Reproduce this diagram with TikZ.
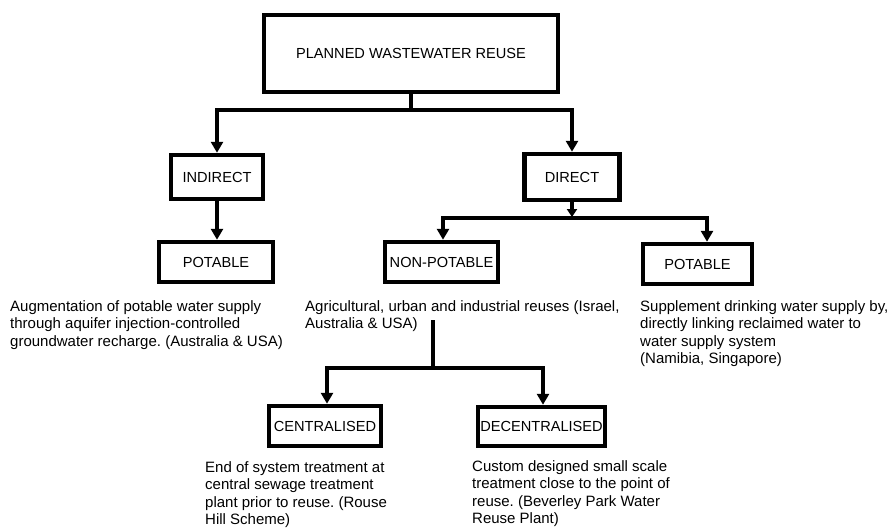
\documentclass[tikz,border=0pt]{standalone}
\usepackage{fontspec}
\setmainfont{Liberation Sans}
\usetikzlibrary{arrows.meta}
\frenchspacing
\begin{document}
\begin{tikzpicture}[x=1pt,y=-1pt,
  box/.style={draw, line width=4.5pt, inner sep=0pt, font=\fontsize{14.6}{17}\selectfont},
  desc/.style={align=left, anchor=north west, inner sep=0pt, font=\fontsize{15}{17.5}\selectfont},
  link/.style={line width=4pt},
  arr/.style={link, -{Triangle[width=12pt,length=11pt]}},
  smallarr/.style={link, -{Triangle[width=10pt,length=8pt]}, shorten >=1pt}]
\path[use as bounding box] (0,0) rectangle (893,527);

% category boxes
\node[box, minimum width=294pt, minimum height=77pt] (top) at (411,53.5) {PLANNED WASTEWATER REUSE};
\node[box, minimum width=92pt, minimum height=44pt] (indirect) at (217,177) {INDIRECT};
\node[box, minimum width=95pt, minimum height=46pt] (direct) at (572,177) {DIRECT};
\node[box, minimum width=114pt, minimum height=40pt] (lpot) at (216,262) {POTABLE};
\node[box, minimum width=113pt, minimum height=40pt] (nonpot) at (441.5,262) {NON-POTABLE};
\node[box, minimum width=109pt, minimum height=40pt] (rpot) at (697.5,264) {POTABLE};
\node[box, minimum width=112pt, minimum height=40pt] (cent) at (325,426) {CENTRALISED};
\node[box, minimum width=127pt, minimum height=39pt] (decent) at (541.5,426.5) {DECENTRALISED};

% explanatory texts
\node[desc] (lpotdesc) at (10,300) {Augmentation of potable water supply\\through aquifer injection-controlled\\groundwater recharge. (Australia \& USA)};
\node[desc] (nonpotdesc) at (305,300) {Agricultural, urban and industrial reuses (Israel,\\Australia \& USA)};
\node[desc] (rpotdesc) at (640,300) {Supplement drinking water supply by,\\directly linking reclaimed water to\\water supply system\\(Namibia, Singapore)};
\node[desc] (centdesc) at (205,461) {End of system treatment at\\central sewage treatment\\plant prior to reuse. (Rouse\\Hill Scheme)};
\node[desc] (decentdesc) at (472,460) {Custom designed small scale\\treatment close to the point of\\reuse. (Beverley Park Water\\Reuse Plant)};

% connectors
\coordinate (j1) at (411,110);
\draw[link] (top.south) -- (j1);
\draw[arr] (j1) -| (indirect.north);
\draw[arr] (j1) -| (direct.north);
\draw[arr] (indirect.south) -- (indirect.south |- lpot.north);

\coordinate (j2) at (572,218);
\draw[smallarr] (direct.south) -- (j2);
\draw[arr] (j2) -| ([xshift=1.5pt]nonpot.north);
\draw[arr] (j2) -| ([xshift=9.5pt]rpot.north);

\coordinate (j3) at (433,320);
\coordinate (j4) at (433,368);
\draw[link] (j3) -- (j4);
\draw[arr] (j4) -| ([xshift=2pt]cent.north);
\draw[arr] (j4) -| ([xshift=1.5pt]decent.north);
\end{tikzpicture}
\end{document}
